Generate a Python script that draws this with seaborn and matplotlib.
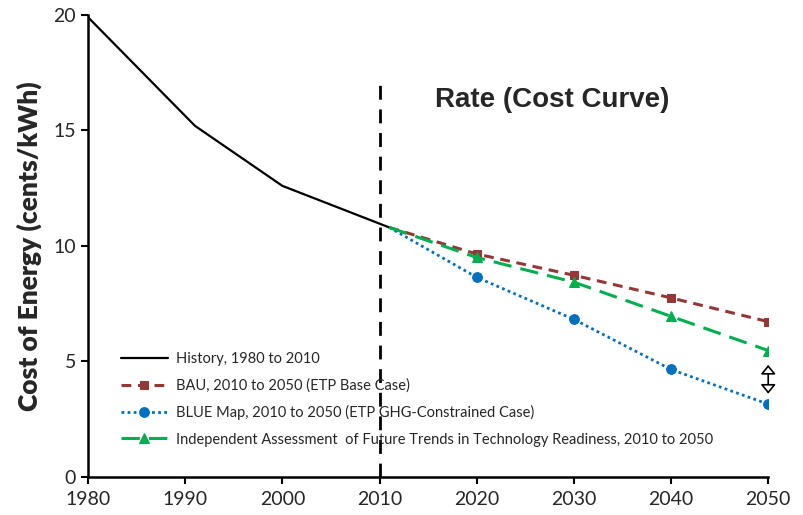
import matplotlib
matplotlib.use("Agg")
import matplotlib.pyplot as plt
import seaborn as sns
import pandas as pd

# Historical cost of energy
hist_years = [1980, 1991, 2000, 2011]
hist_cost = [19.9, 15.2, 12.6, 10.8]

# Projections 2010-2050
proj_years = [2011, 2020, 2030, 2040, 2050]
bau_cost = [10.8, 9.65, 8.73, 7.75, 6.72]
blue_cost = [10.8, 8.64, 6.82, 4.65, 3.15]
indep_cost = [10.8, 9.5, 8.43, 6.95, 5.47]

labels = [
    "History, 1980 to 2010",
    "BAU, 2010 to 2050 (ETP Base Case)",
    "BLUE Map, 2010 to 2050 (ETP GHG-Constrained Case)",
    "Independent Assessment  of Future Trends in Technology Readiness, 2010 to 2050",
]
xticks = [1980, 1990, 2000, 2010, 2020, 2030, 2040, 2050]
yticks = [0, 5, 10, 15, 20]

sns.set_style("ticks")
plt.rcParams["font.family"] = ["Lato", "DejaVu Sans"]

fig = plt.figure(figsize=(8.04, 5.15), dpi=100)
ax = fig.add_axes([0.1095, 0.074, 0.846, 0.897])

hist_df = pd.DataFrame({"year": hist_years, "cost": hist_cost})
sns.lineplot(data=hist_df, x="year", y="cost", ax=ax, color="black",
             linewidth=1.6, label=labels[0])

proj = [
    (bau_cost, "#953735", "s", (0, (3.2, 2.2)), 2.2, 6, labels[1]),
    (blue_cost, "#0070C0", "o", (0, (1, 1.2)), 2.0, 7, labels[2]),
    (indep_cost, "#00B050", "^", (0, (6, 3)), 2.2, 7, labels[3]),
]
for vals, col, mk, ls, lw, ms, lab in proj:
    df = pd.DataFrame({"year": proj_years, "cost": vals})
    sns.lineplot(data=df, x="year", y="cost", ax=ax, color=col, marker=mk,
                 markersize=ms, markeredgecolor=col, linewidth=lw,
                 linestyle=ls, markevery=[1, 2, 3, 4], label=lab)

# Boundary between history and projection
ax.plot([2010, 2010], [0, 17.2], color="black", linewidth=2,
        linestyle=(0, (5, 3.5)))

# Gap between independent assessment and BLUE Map in 2050
ax.annotate("", xy=(2050, 3.6), xytext=(2050, 4.85),
            arrowprops=dict(arrowstyle="<|-|>,head_width=0.45,head_length=0.55",
                            fc="white", ec="black", lw=1.2,
                            shrinkA=0, shrinkB=0))

ax.text(2027.8, 16.3, "Rate (Cost Curve)", fontsize=20, fontweight="bold",
        family=["Liberation Sans", "DejaVu Sans"], ha="center", va="center")

ax.set_xlim(1980, 2050)
ax.set_ylim(0, 20)
ax.set_xticks(xticks)
ax.set_yticks(yticks)
ax.tick_params(axis="both", labelsize=14, length=5, width=1.5, color="black",
               direction="out")
ax.tick_params(axis="x", pad=5)
ax.set_xlabel("")
ax.set_ylabel("Cost of Energy (cents/kWh)", fontsize=19, fontweight="heavy",
              labelpad=8)
for side in ("top", "right"):
    ax.spines[side].set_visible(False)
for side in ("left", "bottom"):
    ax.spines[side].set_linewidth(1.8)
    ax.spines[side].set_color("black")

leg = ax.legend(loc="upper left", bbox_to_anchor=(0.04, 0.283), frameon=False,
                fontsize=10.5, handlelength=3.2, handletextpad=0.6,
                labelspacing=0.85, borderaxespad=0)

fig.savefig("out.png", dpi=100)
